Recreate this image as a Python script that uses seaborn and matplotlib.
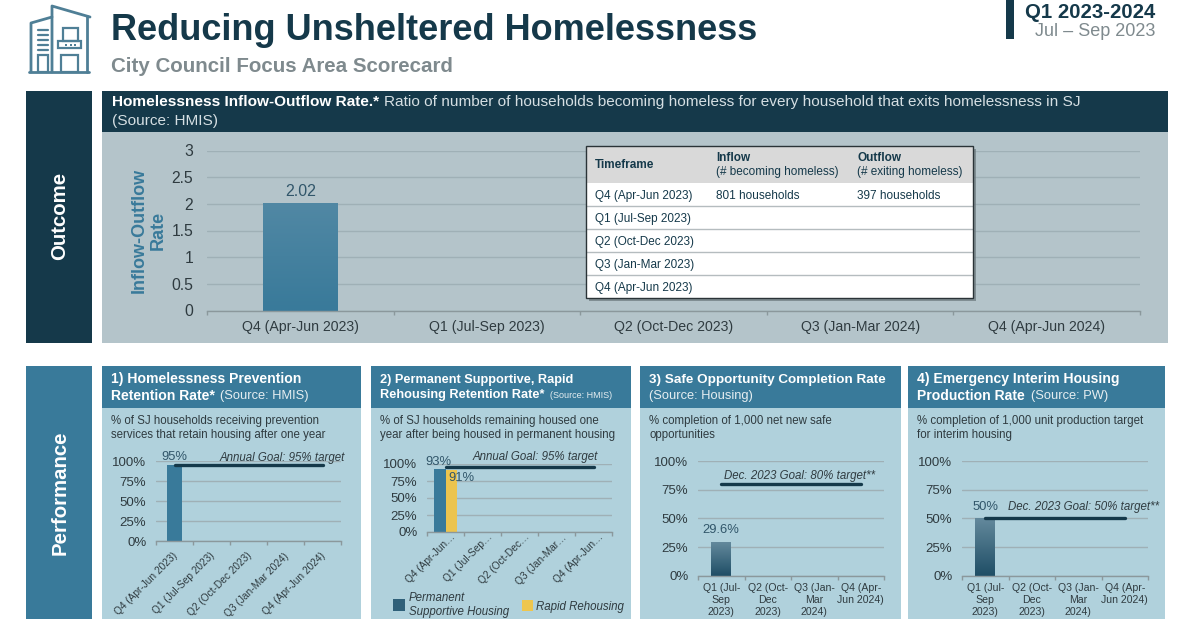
import numpy as np
import pandas as pd
import matplotlib.pyplot as plt
import matplotlib.transforms as mtrans
from matplotlib.colors import LinearSegmentedColormap
from matplotlib.patches import Rectangle
import seaborn as sns

# data
main_quarters = ["Q4 (Apr-Jun 2023)", "Q1 (Jul-Sep 2023)", "Q2 (Oct-Dec 2023)",
                 "Q3 (Jan-Mar 2024)", "Q4 (Apr-Jun 2024)"]
main_rate = [2.02, np.nan, np.nan, np.nan, np.nan]
main_ticks = [0, 0.5, 1, 1.5, 2, 2.5, 3]
main_tick_labels = ["0", "0.5", "1", "1.5", "2", "2.5", "3"]

prevention_rate = [95, np.nan, np.nan, np.nan, np.nan]
prevention_goal = 95

psh_rate = [93, np.nan, np.nan, np.nan, np.nan]
rrh_rate = [91, np.nan, np.nan, np.nan, np.nan]
retention_goal = 95
short_quarters = ["Q4 (Apr-Jun…", "Q1 (Jul-Sep…", "Q2 (Oct-Dec…", "Q3 (Jan-Mar…", "Q4 (Apr-Jun…"]

fy_quarters = ["Q1 (Jul-\nSep\n2023)", "Q2 (Oct-\nDec\n2023)", "Q3 (Jan-\nMar\n2024)", "Q4 (Apr-\nJun 2024)"]
safe_rate = [29.6, np.nan, np.nan, np.nan]
safe_goal = 80
interim_rate = [50, np.nan, np.nan, np.nan]
interim_goal = 50

pct_ticks = [0, 25, 50, 75, 100]
pct_labels = ["0%", "25%", "50%", "75%", "100%"]

table_header = ["Timeframe", "Inflow", "Outflow"]
table_sub = ["", "(# becoming homeless)", "(# exiting homeless)"]
table_rows = [["Q4 (Apr-Jun 2023)", "801 households", "397 households"],
              ["Q1 (Jul-Sep 2023)", "", ""],
              ["Q2 (Oct-Dec 2023)", "", ""],
              ["Q3 (Jan-Mar 2023)", "", ""],
              ["Q4 (Apr-Jun 2023)", "", ""]]

DARK = "#15394a"
TEAL = "#397a9a"
PANEL = "#b0d1dc"
OUTCOME_BG = "#b4c4ca"
GRID = "#9fb0b6"
GREY = "#7f8a8e"
INK = "#2f3b40"
W, H = 1200, 624

sns.set_theme(style="white")
plt.rcParams["font.family"] = ["Liberation Sans", "DejaVu Sans"]

fig = plt.figure(figsize=(12, 6.24), dpi=100, facecolor="white")


def pixel_layer(zorder):
    ax = fig.add_axes([0, 0, 1, 1], zorder=zorder)
    ax.set_xlim(0, W)
    ax.set_ylim(H, 0)
    ax.axis("off")
    ax.patch.set_alpha(0)
    return ax


def chart_axes(x0, y0, x1, y1):
    ax = fig.add_axes([x0 / W, 1 - y1 / H, (x1 - x0) / W, (y1 - y0) / H], zorder=1)
    ax.patch.set_alpha(0)
    return ax


def box(ax, x0, y0, x1, y1, color, **kw):
    ax.add_patch(Rectangle((x0, y0), x1 - x0, y1 - y0, facecolor=color, edgecolor="none", **kw))


def gradient_bars(ax, top, bottom):
    cmap = LinearSegmentedColormap.from_list("bar", [top, bottom])
    xlim, ylim = ax.get_xlim(), ax.get_ylim()
    for bar in ax.patches:
        if not np.isfinite(bar.get_height()) or bar.get_height() == 0:
            continue
        im = ax.imshow(np.linspace(0, 1, 64).reshape(-1, 1), cmap=cmap, aspect="auto",
                       extent=[bar.get_x(), bar.get_x() + bar.get_width(), 0, bar.get_height()],
                       zorder=bar.get_zorder() + 0.1)
        im.set_clip_path(bar)
    ax.set_xlim(xlim)
    ax.set_ylim(ylim)


def style_axes(ax, labels, yticks, ylabels, ymax, tick_size, label_size, xpad=7, ypad=7):
    n = len(labels)
    ax.set_xlim(-0.5, n - 0.5)
    ax.set_ylim(0, ymax)
    ax.set_xlabel("")
    ax.set_ylabel("")
    ax.set_yticks(yticks)
    ax.set_yticklabels(ylabels, fontsize=tick_size, color=INK)
    ax.set_xticks(range(n))
    ax.set_xticklabels(labels, fontsize=label_size, color=INK, linespacing=1.3)
    ax.set_xticks(np.arange(-0.5, n), minor=True)
    ax.tick_params(axis="x", which="major", length=0, pad=xpad)
    ax.tick_params(axis="x", which="minor", length=3, width=1, color="#8b989c", bottom=True)
    ax.tick_params(axis="y", length=0, pad=ypad)
    ax.set_axisbelow(True)
    ax.yaxis.grid(True, color=GRID, lw=1)
    ax.xaxis.grid(False)
    sns.despine(ax=ax, left=True)
    ax.spines["bottom"].set_color("#8b989c")
    ax.spines["bottom"].set_linewidth(1)


def goal_line(ax, value, n):
    ax.plot([0, n - 1], [value, value], color=DARK, lw=2.4, solid_capstyle="round", zorder=5)


def value_label(ax, x, y, text, dx=0, dy=5, size=9.4):
    ax.annotate(text, (x, y), xytext=(dx, dy), textcoords="offset pixels", ha="center", va="bottom",
                fontsize=size, color="#31566a", zorder=6)


def slanted_labels(ax, dx):
    shift = mtrans.Affine2D().translate(dx, 0)
    for lab in ax.get_xticklabels():
        lab.set_rotation(45)
        lab.set_ha("right")
        lab.set_va("top")
        lab.set_rotation_mode("anchor")
        lab.set_transform(lab.get_transform() + shift)


back = pixel_layer(0)
top = pixel_layer(2)

# header
icon = "#4f7f96"
for seg in [[(31, 72), (31, 23), (52, 17)], [(52, 72), (52, 6), (90, 17)], [(87, 16), (87, 72)], [(29, 72), (89, 72)]]:
    xs, ys = zip(*seg)
    back.plot(xs, ys, color=icon, lw=2, solid_capstyle="round")
for y in [30, 35, 40, 45, 50]:
    back.plot([37.5, 48], [y, y], color=icon, lw=1.6)
for x0, y0, x1, y1 in [(37.5, 55, 48, 72), (63, 28, 78, 41), (58, 41, 81, 48), (61, 55, 78, 72)]:
    back.add_patch(Rectangle((x0, y0), x1 - x0, y1 - y0, fill=False, edgecolor=icon, lw=1.6))
for x in [65, 69.5, 74]:
    box(back, x, 43.5, x + 2.2, 45.5, icon)

top.text(111, 30, "Reducing Unsheltered Homelessness", fontsize=26, fontweight="bold", color=DARK, va="center")
top.text(111, 66, "City Council Focus Area Scorecard", fontsize=14.8, fontweight="bold", color=GREY, va="center")
box(back, 1006, 0, 1014, 39, DARK)
top.text(1155, 12, "Q1 2023-2024", fontsize=14.7, fontweight="bold", color=DARK, va="center", ha="right")
top.text(1155, 32, "Jul – Sep 2023", fontsize=13, color=GREY, va="center", ha="right")

# outcome section
box(back, 26, 91, 92, 343, DARK)
top.text(60, 216, "Outcome", fontsize=14.7, fontweight="bold", color="white", rotation=90, ha="center", va="center")
box(back, 102, 91, 1168, 132, DARK)
box(back, 102, 132, 1168, 343, OUTCOME_BG)
top.text(112, 102, "Homelessness Inflow-Outflow Rate.*", fontsize=11.1, fontweight="bold", color="white", va="center")
top.text(384, 102, "Ratio of number of households becoming homeless for every household that exits homelessness in SJ",
         fontsize=11.1, color="#d5dfe3", va="center")
top.text(112, 121, "(Source: HMIS)", fontsize=11.1, color="#d5dfe3", va="center")

ax_main = chart_axes(207, 150.5, 1140, 310.5)
sns.barplot(data=pd.DataFrame({"quarter": main_quarters, "rate": main_rate}), x="quarter", y="rate",
            order=main_quarters, color=TEAL, width=0.4, errorbar=None, saturation=1, linewidth=0, ax=ax_main)
style_axes(ax_main, main_quarters, main_ticks, main_tick_labels, 3, 11.3, 10.2, xpad=7, ypad=10)
gradient_bars(ax_main, "#5188a4", TEAL)
value_label(ax_main, 0, main_rate[0], "2.02", dy=4, size=11.5)
ax_main.set_ylabel("Inflow-Outflow\nRate", fontsize=13, fontweight="bold", color=TEAL, labelpad=3, linespacing=1.2)

# inflow/outflow table
tx0, tx1 = 586, 973
ty = [146, 182.7, 205.5, 229, 252, 275, 298]
col_x = [595, 716, 857]
box(top, tx0 + 3, ty[0] + 3, tx1 + 3, ty[-1] + 3, "#6b777c", alpha=0.7)
box(top, tx0, ty[0], tx1, ty[1], "#d9d9d9")
box(top, tx0, ty[1], tx1, ty[-1], "white")
top.add_patch(Rectangle((tx0, ty[0]), tx1 - tx0, ty[-1] - ty[0], fill=False, edgecolor="#2a3337", lw=1, zorder=4))
top.text(col_x[0], 165, table_header[0], fontsize=8.5, fontweight="bold", color=DARK, va="center")
for cx, head, sub in zip(col_x[1:], table_header[1:], table_sub[1:]):
    top.text(cx, 158, head, fontsize=8.5, fontweight="bold", color=DARK, va="center")
    top.text(cx, 171.5, sub, fontsize=8.5, color=DARK, va="center")
for i, row in enumerate(table_rows):
    mid = (ty[i + 1] + ty[i + 2]) / 2 + 1.5
    for cx, cell in zip(col_x, row):
        top.text(cx, mid, cell, fontsize=8.5, color=DARK, va="center")
    if i:
        top.plot([tx0, tx1], [ty[i + 1], ty[i + 1]], color="#b5bcbf", lw=1)

# performance section
box(back, 26, 366, 92, 619, TEAL)
top.text(60, 493, "Performance", fontsize=14.7, fontweight="bold", color="white", rotation=90, ha="center", va="center")

panels = [(102, 361), (371, 631), (640, 901), (908, 1165)]
for x0, x1 in panels:
    box(back, x0, 366, x1, 408, TEAL)
    box(back, x0, 408, x1, 619, PANEL)

head = dict(fontsize=10.1, fontweight="bold", color="white", va="center")
head2 = dict(fontsize=9.2, fontweight="bold", color="white", va="center")
src = dict(fontsize=9.3, color="#e6eef1", va="center")
note = dict(fontsize=8.3, color=INK, va="center")
top.text(111, 379, "1) Homelessness Prevention", **head)
top.text(111, 396, "Retention Rate*", **head)
top.text(220, 396, "(Source: HMIS)", **src)
top.text(111, 421, "% of SJ households receiving prevention", **note)
top.text(111, 435, "services that retain housing after one year", **note)

top.text(380, 380, "2) Permanent Supportive, Rapid", **head2)
top.text(380, 395, "Rehousing Retention Rate*", **head2)
top.text(550, 396, "(Source: HMIS)", fontsize=6.5, color="#e6eef1", va="center")
top.text(380, 421, "% of SJ households remaining housed one", **note)
top.text(380, 435, "year after being housed in permanent housing", **note)

top.text(649, 380, "3) Safe Opportunity Completion Rate", fontsize=9.7, fontweight="bold", color="white", va="center")
top.text(649, 396, "(Source: Housing)", **src)
top.text(649, 421, "% completion of 1,000 net new safe", **note)
top.text(649, 435, "opportunities", **note)

top.text(917, 379, "4) Emergency Interim Housing", **head)
top.text(917, 396, "Production Rate", **head)
top.text(1031, 396, "(Source: PW)", **src)
top.text(917, 421, "% completion of 1,000 unit production target", **note)
top.text(917, 435, "for interim housing", **note)

goal_font = dict(fontsize=8.3, fontstyle="italic", color=INK, va="center")

# chart 1
ax1 = chart_axes(156, 461, 341, 541)
sns.barplot(data=pd.DataFrame({"quarter": main_quarters, "rate": prevention_rate}), x="quarter", y="rate",
            order=main_quarters, color=TEAL, width=0.4, errorbar=None, saturation=1, linewidth=0, ax=ax1)
style_axes(ax1, main_quarters, pct_ticks, pct_labels, 100, 9.5, 7.3, xpad=7)
slanted_labels(ax1, -2)
goal_line(ax1, prevention_goal, 5)
value_label(ax1, 0, prevention_rate[0], "95%", dy=2)
top.text(345, 458, "Annual Goal: 95% target", ha="right", **goal_font)

# chart 2
ax2 = chart_axes(427, 464, 612, 532)
housing = pd.DataFrame({"quarter": main_quarters * 2,
                        "rate": psh_rate + rrh_rate,
                        "program": ["Permanent Supportive Housing"] * 5 + ["Rapid Rehousing"] * 5})
sns.barplot(data=housing, x="quarter", y="rate", hue="program", order=main_quarters,
            palette=[TEAL, "#ecc44e"], width=0.6, errorbar=None, saturation=1, linewidth=0, legend=False, ax=ax2)
style_axes(ax2, short_quarters, pct_ticks, pct_labels, 100, 9.5, 7.3, xpad=0)
slanted_labels(ax2, 5)
goal_line(ax2, retention_goal, 5)
value_label(ax2, 0, psh_rate[0], "93%", dx=-7, dy=1)
value_label(ax2, 0, rrh_rate[0], "91%", dx=16, dy=-14)
top.text(598, 457, "Annual Goal: 95% target", ha="right", **goal_font)
box(top, 393, 599, 405, 611, "#2f6079")
top.text(409, 598, "Permanent", fontsize=8.3, fontstyle="italic", color=INK, va="center")
top.text(409, 612, "Supportive Housing", fontsize=8.3, fontstyle="italic", color=INK, va="center")
box(top, 522, 600, 533, 611, "#eec64e")
top.text(536, 607, "Rapid Rehousing", fontsize=8.3, fontstyle="italic", color=INK, va="center")

# chart 3
ax3 = chart_axes(698, 461, 884, 575.7)
sns.barplot(data=pd.DataFrame({"quarter": fy_quarters, "rate": safe_rate}), x="quarter", y="rate",
            order=fy_quarters, color=DARK, width=0.42, errorbar=None, saturation=1, linewidth=0, ax=ax3)
style_axes(ax3, fy_quarters, pct_ticks, pct_labels, 100, 9.5, 7.6, xpad=5)
gradient_bars(ax3, "#63899c", "#1f4e66")
goal_line(ax3, safe_goal, 4)
value_label(ax3, 0, safe_rate[0], "29.6%", dy=6)
top.text(724, 476, "Dec. 2023 Goal: 80% target**", **goal_font)

# chart 4
ax4 = chart_axes(962, 461, 1148, 575.7)
sns.barplot(data=pd.DataFrame({"quarter": fy_quarters, "rate": interim_rate}), x="quarter", y="rate",
            order=fy_quarters, color=DARK, width=0.42, errorbar=None, saturation=1, linewidth=0, ax=ax4)
style_axes(ax4, fy_quarters, pct_ticks, pct_labels, 100, 9.5, 7.6, xpad=5)
gradient_bars(ax4, "#63899c", "#1f4e66")
goal_line(ax4, interim_goal, 4)
value_label(ax4, 0, interim_rate[0], "50%", dy=5)
top.text(1008, 507, "Dec. 2023 Goal: 50% target**", **goal_font)

fig.savefig("out.png", dpi=100, facecolor="white")
